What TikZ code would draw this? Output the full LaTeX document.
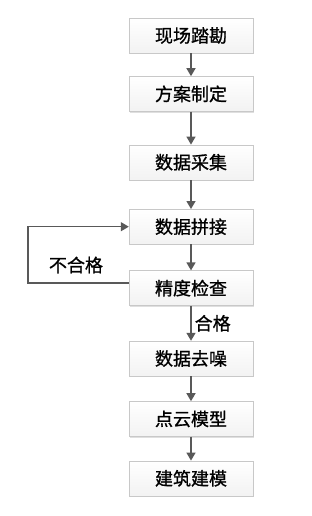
\documentclass[tikz,border=0pt]{standalone}
\usepackage{fontspec}
\newfontfamily\cjk[FakeBold=1]{Noto Sans CJK SC}
\definecolor{ArrowGray}{HTML}{595959}
\definecolor{BoxBorder}{HTML}{C8C8C8}
\usetikzlibrary{arrows.meta,positioning,shadows}
\tikzset{
    % Light grey step boxes
    stepbox/.style={
        rectangle,
        draw=BoxBorder,
        top color=white,
        bottom color=gray!10,
        drop shadow={shadow xshift=1.2pt,shadow yshift=-1.2pt,opacity=0.25},
        minimum width=124pt,
        minimum height=35pt,
        inner sep=0pt,
        align=center,
        font=\cjk\fontsize{18}{21}\selectfont
    },
    arrow/.style={
        -{Triangle[width=9pt,length=8pt]},
        line width=1.4pt,
        color=ArrowGray
    },
    tag/.style={
        text=black,
        font=\cjk\fontsize{18}{21}\selectfont,
        inner sep=1pt
    }
}
\begin{document}
\begin{tikzpicture}[x=1pt,y=1pt]
        \useasboundingbox (0,0) rectangle (311,-516);
        % Vertical flow
        \node[stepbox] (survey) at (191,-35.5) {现场踏勘};
        \node[stepbox, below=23pt of survey] (plan) {方案制定};
        \node[stepbox, below=33pt of plan] (collect) {数据采集};
        \node[stepbox, below=29pt of collect] (splice) {数据拼接};
        \node[stepbox, below=26pt of splice] (check) {精度检查};
        \node[stepbox, below=35pt of check] (denoise) {数据去噪};
        \node[stepbox, below=25pt of denoise] (cloud) {点云模型};
        \node[stepbox, below=24pt of cloud] (building) {建筑建模};

        % Arrows
        \draw[arrow] (survey) -- (plan);
        \draw[arrow] (plan) -- (collect);
        \draw[arrow] (collect) -- (splice);
        \draw[arrow] (splice) -- (check);
        \draw[arrow] (check) -- (denoise)
            node[tag, midway, right=2pt] (pass) {合格};
        \draw[arrow] (denoise) -- (cloud);
        \draw[arrow] (cloud) -- (building);

        % Feedback loop
        \draw[arrow] ([yshift=5pt]check.west) -- ++(-101,0) |- (splice.west);
        \node[tag] (fail) at (76,-265) {不合格};
    \end{tikzpicture}
\end{document}
